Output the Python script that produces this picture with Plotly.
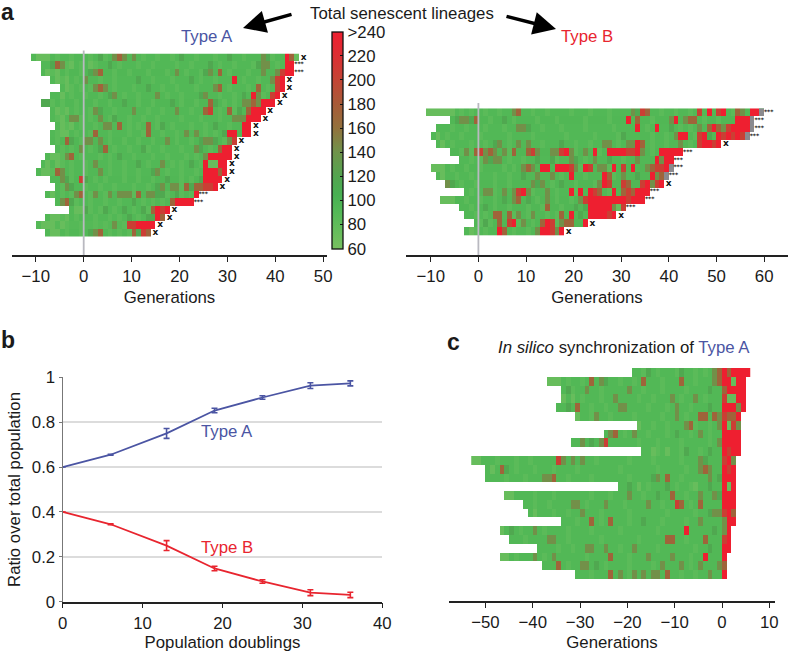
import plotly.graph_objects as go

W, H = 788, 652
R, D, B, O, M, L = 240, 205, 172, 142, 116, 74

# ---------- panel a, Type A ----------
A_START = [-11,-9,-9,-7,-5,-7,-9,-7,-7,-6,-7,-7,-6,-8,-9,-10,-7,-6,-8,-6,-3,-8,-10,-8]
A_END   = [45,44,44,42,42,41,40,38,37,35,35,32,31,31,30,30,29,28,24,23,18,17,15,14]
A_MARK  = ["x","***","***","x","x","x","x","x","x","x","x","x","x","x","x","x","x","x","***","***","x","x","x","x"]
A_BASE  = [93,92,94,92,93,92,94,93,92,93,92,94,93,92,93,92,94,93,92,93,92,92,90,92]
A_CELLS = [
 {-10:L,-9:L,-8:L,3:M,7:B,8:O,6:O,10:O,37:O,38:M,42:R,43:B,44:L,20:M,30:M},
 {-6:B,-5:O,-7:M,-3:L,1:L,5:M,37:O,38:O,36:M,42:R,43:R,26:M},
 {-8:L,-6:L,2:O,3:B,1:M,19:O,26:O,25:M,28:B,37:O,40:O,41:D,42:R,43:R},
 {-6:L,-4:L,0:O,11:M,31:R,39:O,40:D,41:R,22:M},
 {-4:L,2:O,3:B,4:O,27:O,28:B,36:B,40:D,41:R,13:M},
 {-5:L,5:M,6:O,15:O,25:O,24:M,35:R,36:O,39:D,40:R,33:M},
 {-9:M,-8:M,8:M,26:B,27:M,33:O,34:O,35:B,36:O,37:R,38:R,39:R,18:M},
 {-6:L,-4:L,3:M,2:O,10:O,19:O,26:D,25:B,30:B,32:M,35:R,36:R,37:R,34:B},
 {-5:L,-3:O,-2:O,3:O,6:M,32:O,33:O,31:O,34:R,35:R,36:R},
 {-5:L,-3:L,4:O,5:O,7:B,13:B,16:M,33:R,34:R,27:M},
 {-5:L,-4:L,2:B,13:B,21:O,23:O,30:R,31:R,33:R,34:R,29:M},
 {-4:B,-3:M,1:O,0:O,3:O,17:O,24:M,26:O,25:O,30:O,31:D,27:M},
 {-1:O,3:M,4:B,23:O,24:M,29:R,30:R,28:B,12:M},
 {-7:L,-6:L,-3:B,-4:O,7:M,26:R,27:R,28:R,29:R,30:R,25:O},
 {-8:L,-6:L,2:O,11:M,16:O,25:R,26:L,27:L,28:R,29:R,22:M},
 {-9:L,-8:L,-6:B,-5:O,3:O,14:M,15:O,25:R,26:R,27:R,28:B,29:R},
 {-1:D,-5:O,-4:M,0:M,17:M,25:R,26:R,27:R,28:R,24:M},
 {-3:M,-4:O,15:M,16:O,18:O,19:O,21:B,23:B,24:B,25:D,26:D,27:R,22:M},
 {-7:L,-2:O,-1:B,2:O,5:O,7:O,8:O,9:O,11:B,13:O,14:O,15:M,23:R,19:M,16:M},
 {-5:O,-4:B,-3:M,18:B,19:R,20:R,21:R,22:R,10:M},
 {-2:L,-1:L,0:M,4:M,8:M,14:B,15:R,16:D,17:R,12:M},
 {-7:L,-6:L,-4:L,9:M,13:M,15:R,16:B,14:M},
 {-9:L,-8:L,-7:L,-5:L,6:O,9:D,10:D,11:R,12:R,13:R,14:R},
 {-7:L,-6:L,2:O,3:B,1:M,10:B,12:D,13:B,11:M},
]
A_SOFT = [
 [-6,-3,1,4,12,15,18,23,27,33,39],
 [-4,-1,2,7,11,14,19,22,28,31,35,40],
 [-7,-4,-1,6,9,13,17,21,24,30,34],
 [-5,-2,3,6,14,18,24,27,33,36],
 [-3,-1,1,6,10,16,19,23,30,34,38],
 [-3,0,3,8,11,17,20,28,31,37],
 [-7,-5,-2,2,5,11,14,20,23,29,31],
 [-5,-2,1,6,13,16,22,28,31],
 [-6,-1,1,5,9,12,15,20,24,28],
 [-4,-1,2,9,11,15,18,22,25,30],
 [-6,-2,1,5,9,12,16,19,25,27],
 [-6,-1,5,8,11,14,19,22,29],
 [-5,-3,1,6,9,13,16,20,26],
 [-5,-1,3,5,10,14,17,21,23],
 [-5,-3,0,5,8,13,18,20,24],
 [-7,-3,0,5,8,11,17,20,23],
 [-3,2,4,8,11,14,20,22],
 [-5,0,3,6,10,13,20],
 [-5,-3,1,4,10,17,20,22],
 [-2,1,4,7,12,14,16],
 [1,3,6,10,13],
 [-5,-2,2,5,7,11],
 [-4,-1,2,4,8],
 [-4,-1,5,7,9],
]

# ---------- panel a, Type B ----------
B_START = [-11,-6,-9,-10,-9,-6,-4,-10,-9,-7,-3,-8,-4,-3,-1,-3]
B_END   = [60,58,58,57,51,43,41,41,40,39,36,35,31,29,23,18]
B_MARK  = ["***","***","***","***","x","***","***","***","***","x","***","***","***","x","x","x"]
B_BASE  = [93,94,93,92,93,94,93,94,92,94,93,94,94,92,94,93]
B_GRAY  = {0:[59], 1:[57], 2:[57], 3:[56], 7:[40], 8:[39]}
B_CELLS = [
 {-11:L,-10:L,-9:L,-8:L,-7:L,-6:L,7:O,8:B,32:O,33:M,34:D,35:B,46:D,48:R,50:D,51:R,54:B,55:O,57:R,58:R},
 {-5:M,-4:O,-3:O,-2:M,-1:B,5:M,31:R,33:B,40:O,41:R,43:O,44:B,45:B,54:R,55:R,56:R},
 {8:O,9:O,10:M,33:R,37:R,40:M,46:O,48:B,49:R,50:B,51:O,52:D,53:R,54:R,55:R,56:R},
 {-9:L,30:M,41:O,42:R,43:R,46:D,47:R,48:M,50:R,51:D,52:R,53:D,54:R,55:D},
 {-8:L,3:M,4:O,8:O,10:O,17:M,26:O,27:O,31:O,32:O,33:R,34:B,42:O,46:D,47:R,48:R,49:D,50:R},
 {-3:O,-1:B,0:D,1:O,2:B,3:O,5:O,7:B,10:B,11:D,12:O,15:O,16:O,17:D,18:R,19:O,22:O,24:R,27:R,28:R,29:R,30:R,31:D,32:D,33:R,34:O,38:R,39:R,40:R,41:R,42:R},
 {1:O,2:M,3:O,4:O,12:M,15:M,19:O,20:M,24:O,27:M,33:O,37:R,38:O,39:R,40:R},
 {-10:L,-9:L,-8:L,9:O,10:B,11:O,13:R,14:R,16:R,17:R,18:R,19:D,20:O,22:R,23:D,25:O,26:O,28:R,30:D,32:R,35:O,36:B,37:D,38:D,39:R},
 {-8:L,9:M,12:O,15:O,19:R,26:R,27:B,30:O,33:M,36:R,37:O,38:B},
 {-7:O,-6:M,11:O,12:M,13:O,17:M,25:O,26:R,27:D,30:D,31:B,34:D,35:R,36:O,37:D,38:R},
 {1:O,2:O,5:O,7:O,8:D,9:R,10:O,14:O,19:R,21:R,23:R,24:D,25:B,28:R,30:B,31:D,32:B,33:R,34:R,35:R},
 {-8:L,-7:L,-6:L,5:M,7:O,8:B,10:M,14:O,21:O,22:D,23:R,24:R,25:R,26:R,27:R,28:R,29:R,30:R,31:D,32:R,33:R,34:R},
 {1:M,14:B,20:M,22:M,23:R,24:R,25:R,26:R,27:R,28:O,29:L,30:D},
 {3:B,4:B,6:B,8:O,11:O,17:B,19:R,21:M,23:R,24:R,25:R,26:R,27:D,28:R},
 {1:M,4:B,6:D,7:R,9:O,13:B,14:R,15:D,17:O,18:B,19:B,22:R},
 {-2:L,4:R,5:B,12:O,13:R,14:R,15:D,16:O,17:R},
]
B_SOFT = [
 [-4,-2,1,4,11,14,19,23,27,38,41,44,53],
 [-3,2,7,12,16,22,27,36,47,50],
 [-6,-3,1,5,13,17,22,28,35,42,44],
 [-7,-4,0,6,11,18,24,29,36,39,45],
 [-6,-2,1,6,13,20,23,29,36,39,44],
 [-4,-2,6,20,25,36],
 [-2,0,6,9,16,22,30],
 [-6,-3,0,5,7,21,27],
 [-5,-2,3,6,17,22,28],
 [-4,-1,3,6,15,20,24],
 [-2,3,11,16,20,27],
 [-3,0,3,12,16,19],
 [-2,3,6,10,13,17],
 [-1,1,7,10,14,16],
 [0,2,8,11,16],
 [-1,1,7,10],
]

# ---------- panel c, synchronization ----------
C_START = [-19,-37,-34,-34,-35,-31,-18,-25,-32,-17,-53,-50,-50,-22,-46,-42,-41,-34,-47,-45,-39,-47,-38,-31]
C_END   = [6,5,5,5,5,4,4,4,4,4,3,3,3,3,3,3,3,3,2,2,2,1,1,1]
C_BASE  = [93,92,93,92,92,93,92,93,92,93,92,92,93,92,93,92,93,92,92,93,92,92,93,93]
C_CELLS = [
 {-2:O,-1:B,-16:M,-9:M,0:R,1:B,2:R,3:R,4:R,5:R},
 {-37:L,-36:L,-35:L,-28:B,-26:O,-25:M,-17:B,-9:B,-2:O,-1:B,0:R,1:R,2:L,3:R,4:R},
 {-33:M,-29:O,-20:O,-3:M,0:B,1:R,2:R,3:R,4:R},
 {-34:L,-32:L,-23:O,-11:O,-6:O,0:D,1:L,2:L,3:R,4:R},
 {-33:M,-31:B,-22:O,-21:O,-10:O,-3:M,0:R,1:R,2:R,3:O,4:R},
 {-31:L,-27:O,-10:O,-5:B,-4:B,-2:B,-1:O,0:D,1:B,2:B,3:R},
 {-8:O,-7:B,-18:L,-1:O,0:R,1:L,2:D,3:O},
 {-24:O,-23:B,-19:O,-10:M,-5:O,0:R,1:R,2:R,3:R},
 {-30:O,-28:M,-26:O,-25:D,-1:O,0:R,1:R,2:R,3:R},
 {-15:L,-12:L,-8:M,-3:M,0:R,1:D,2:R,3:R},
 {-53:L,-52:L,-35:D,-34:O,-32:O,-30:O,-5:O,-4:M,0:D,1:R,2:O},
 {-49:L,-47:B,-46:M,-5:O,-4:B,-3:O,0:R,1:D,2:R},
 {-36:B,-37:O,-38:O,-15:M,-14:O,-12:B,-3:O,-1:M,0:R,1:R,2:R},
 {-20:M,-18:L,-12:M,-6:L,-3:M,0:R,1:L,2:R},
 {-46:L,-45:L,-20:O,-14:M,-11:B,-5:O,-2:O,-1:M,0:R,1:R,2:R},
 {-32:O,-31:O,-25:O,-16:O,-10:D,-9:B,-5:B,0:R,1:R,2:R},
 {-40:L,-30:O,-2:O,-1:O,-3:M,0:D,1:R,2:B},
 {-28:B,-24:B,-17:M,-5:O,0:O,1:R,2:R},
 {-47:L,-45:M,-40:O,-8:R,-2:M,0:O,1:R},
 {-37:O,-36:O,-12:B,-11:B,-4:B,0:D,1:R},
 {-29:O,-28:O,-25:O,-19:O,-3:M,0:R,1:R},
 {-47:L,-46:L,-40:O,-36:O,-24:B,-16:O,-11:O,-4:R,0:R},
 {-35:B,-30:O,-29:O,-27:M,-13:O,-9:O,-5:O,-1:O,0:B},
 {-24:B,-22:O,-19:O,-17:O,-15:O,-14:O,-12:B,-3:O,0:R},
]
C_SOFT = [
 [-17,-14,-10,-6,-4],
 [-33,-30,-22,-19,-13,-6],
 [-32,-26,-17,-13,-8],
 [-30,-26,-18,-15,-9,-4],
 [-28,-25,-16,-12,-7],
 [-28,-24,-19,-13,-8],
 [-15,-12,-6,-3],
 [-21,-16,-12,-7,-3],
 [-18,-14,-9,-3],
 [-14,-9,-5],
 [-48,-44,-41,-27,-20,-15,-9],
 [-44,-40,-36,-31,-22,-14,-8],
 [-46,-42,-33,-28,-20,-9],
 [-16,-10,-7],
 [-40,-36,-28,-24,-17,-8],
 [-40,-37,-29,-21,-13,-7],
 [-36,-33,-26,-20,-12,-6],
 [-31,-26,-20,-13,-8],
 [-43,-38,-33,-28,-22,-14],
 [-42,-33,-26,-18,-8],
 [-35,-32,-22,-14,-6],
 [-44,-38,-29,-20,-7],
 [-33,-25,-20,-15,-7],
 [-28,-20,-9,-6],
]

# ---------- panel b ----------
PD = [0, 6, 13, 19, 25, 31, 36]
TYPE_A = [0.60, 0.655, 0.75, 0.852, 0.91, 0.963, 0.973]
TYPE_A_ERR = [0, 0.002, 0.022, 0.010, 0.008, 0.013, 0.011]
TYPE_B = [0.40, 0.345, 0.25, 0.148, 0.09, 0.04, 0.03]
TYPE_B_ERR = [0, 0.002, 0.022, 0.010, 0.008, 0.013, 0.012]

COLORBAR_TICKS = [60, 80, 100, 120, 140, 160, 180, 200, 220, 240]
COLORBAR_TEXT = ["60", "80", "100", "120", "140", "160", "180", "200", "220", ">240"]

SCALE = [[0.0, "#78c060"], [0.11, "#60bc5a"], [0.18, "#52b856"], [0.25, "#48b052"], [0.33, "#52a550"],
         [0.45, "#70924a"], [0.56, "#93703c"], [0.67, "#a85a38"], [0.78, "#c44434"],
         [0.89, "#dc2e33"], [1.0, "#ee1f30"]]

FONT = "Liberation Sans, Arial, sans-serif"
INK = "#1a1a1a"
BLUE = "#4b55a3"
RED = "#e8252f"
FS = 16.8
SOFT_VALUE = 84


def grid(start, end, base, cells, soft):
    x0, x1 = min(start), max(end)
    gens = list(range(x0, x1))
    z = []
    for s, e, b, c, f in zip(start, end, base, cells, soft):
        row = []
        for g in gens:
            if s <= g < e:
                row.append(c.get(g, SOFT_VALUE if g in f else b))
            else:
                row.append(None)
        z.append(row)
    return [g + 0.5 for g in gens], z


def domx(a, b):
    return [a / W, b / W]


def domy(top, bottom):
    return [1 - bottom / H, 1 - top / H]


fig = go.Figure()

# panel a, left
xa, za = grid(A_START, A_END, A_BASE, A_CELLS, A_SOFT)
fig.add_trace(go.Heatmap(x=xa, y=list(range(24)), z=za, zmin=60, zmax=240, colorscale=SCALE,
    xaxis="x", yaxis="y", hoverongaps=False, showscale=True,
    colorbar=dict(xref="paper", yref="paper", x=332 / W, xanchor="left", y=1 - 31.7 / H, yanchor="top",
                  lenmode="pixels", len=217.3, thicknessmode="pixels", thickness=10.5,
                  xpad=0, ypad=0, outlinecolor="#111", outlinewidth=1.3, ticks="inside", ticklen=3,
                  tickcolor="#111", tickvals=COLORBAR_TICKS, ticktext=COLORBAR_TEXT,
                  tickfont=dict(family=FONT, size=FS, color=INK))))
fig.add_trace(go.Scatter(x=[e + 0.95 for e in A_END], y=list(range(24)), text=A_MARK, mode="text",
    textfont=dict(family="DejaVu Sans", size=[9 if m == "x" else 6 for m in A_MARK], color="#111", weight="bold"),
    xaxis="x", yaxis="y", showlegend=False, cliponaxis=False))

# panel a, right
xb, zb = grid(B_START, B_END, B_BASE, B_CELLS, B_SOFT)
fig.add_trace(go.Heatmap(x=xb, y=list(range(16)), z=zb, zmin=60, zmax=240, colorscale=SCALE,
    xaxis="x2", yaxis="y2", hoverongaps=False, showscale=False))
gray_z = [[(150 if (g - 0.5) in B_GRAY.get(r, []) else None) for g in xb] for r in range(16)]
fig.add_trace(go.Heatmap(x=xb, y=list(range(16)), z=gray_z, zmin=0, zmax=300,
    colorscale=[[0, "#8a8a8f"], [1, "#8a8a8f"]], xaxis="x2", yaxis="y2", hoverongaps=False, showscale=False))
fig.add_trace(go.Scatter(x=[e + 0.95 for e in B_END], y=list(range(16)), text=B_MARK, mode="text",
    textfont=dict(family="DejaVu Sans", size=[9 if m == "x" else 6 for m in B_MARK], color="#111", weight="bold"),
    xaxis="x2", yaxis="y2", showlegend=False, cliponaxis=False))

# panel b
for ys, errs, col in [(TYPE_A, TYPE_A_ERR, BLUE), (TYPE_B, TYPE_B_ERR, RED)]:
    fig.add_trace(go.Scatter(x=PD, y=ys, mode="lines", line=dict(color=col, width=1.8),
        error_y=dict(type="data", array=errs, color=col, thickness=1.6, width=3),
        xaxis="x3", yaxis="y3", showlegend=False, cliponaxis=False))

# panel c
xc, zc = grid(C_START, C_END, C_BASE, C_CELLS, C_SOFT)
fig.add_trace(go.Heatmap(x=xc, y=list(range(24)), z=zc, zmin=60, zmax=240, colorscale=SCALE,
    xaxis="x4", yaxis="y4", hoverongaps=False, showscale=False))

axis_line = dict(showgrid=False, zeroline=False, ticks="outside", ticklen=5, tickwidth=1.3, tickcolor="#222",
                 showline=True, linecolor="#222", linewidth=1.5,
                 tickfont=dict(family=FONT, size=FS, color=INK))
gen_title = dict(text="Generations", font=dict(family=FONT, size=FS, color=INK), standoff=6)

fig.update_layout(
    width=W, height=H, margin=dict(l=0, r=0, t=0, b=0, autoexpand=False), autosize=False,
    paper_bgcolor="white", plot_bgcolor="rgba(0,0,0,0)", showlegend=False,
    font=dict(family=FONT, size=FS, color=INK),
    xaxis=dict(domain=domx(12, 327), range=[-14.97, 50.8], tickvals=[-10, 0, 10, 20, 30, 40, 50],
               anchor="y", title=gen_title, **axis_line),
    yaxis=dict(domain=domy(53.5, 255), range=[25.91, -0.5], visible=False, anchor="x"),
    xaxis2=dict(domain=domx(406, 788), range=[-15.2, 65], tickvals=[-10, 0, 10, 20, 30, 40, 50, 60],
                anchor="y2", title=gen_title, **axis_line),
    yaxis2=dict(domain=domy(108.3, 255), range=[17.93, -0.5], visible=False, anchor="x2"),
    xaxis3=dict(domain=domx(62.7, 382.3), range=[0, 40], tickvals=[0, 10, 20, 30, 40], anchor="y3",
                title=dict(text="Population doublings", font=dict(family=FONT, size=FS, color=INK), standoff=6),
                **axis_line),
    yaxis3=dict(domain=domy(377.3, 601.7), range=[0, 1], tickvals=[0, 0.2, 0.4, 0.6, 0.8, 1],
                ticktext=["0", "0.2", "0.4", "0.6", "0.8", "1"], anchor="x3",
                showgrid=True, gridcolor="#dcdcdc", gridwidth=1.5, zeroline=False, showline=True,
                linecolor="#777", linewidth=1.3, ticks="outside", ticklen=3, tickcolor="#777",
                tickfont=dict(family=FONT, size=FS, color=INK),
                title=dict(text="Ratio over total population", font=dict(family=FONT, size=FS, color=INK), standoff=6)),
    xaxis4=dict(domain=domx(449, 775), range=[-57.7, 11.2], tickvals=[-50, -40, -30, -20, -10, 0, 10],
                anchor="y4", title=gen_title, **axis_line),
    yaxis4=dict(domain=domy(368, 601), range=[26.0, -0.5], visible=False, anchor="x4"),
)

# vertical zero lines of panel a
fig.add_shape(type="line", xref="x", yref="paper", x0=0, x1=0, y0=1 - 255 / H, y1=1 - 50.5 / H,
              line=dict(color="#b9b9c0", width=1.8))
fig.add_shape(type="line", xref="x2", yref="paper", x0=0, x1=0, y0=1 - 255 / H, y1=1 - 103 / H,
              line=dict(color="#b9b9c0", width=1.8))


def label(px, py, text, size=FS, color=INK, xanchor="center", **kw):
    fig.add_annotation(xref="paper", yref="paper", x=px / W, y=1 - py / H, text=text, showarrow=False,
                       xanchor=xanchor, yanchor="middle",
                       font=dict(family=FONT, size=size, color=color), **kw)


label(8, 12, "<b>a</b>", 23)
label(8, 340, "<b>b</b>", 23)
label(453, 342, "<b>c</b>", 23)
label(402, 14, "Total senescent lineages")
label(207, 36, "Type A", color=BLUE)
label(587, 36, "Type B", color=RED)
label(227, 432, "Type A", color=BLUE)
label(227, 547, "Type B", color=RED)
label(624, 347, "<i>In silico</i> synchronization of <span style='color:%s'>Type A</span>" % BLUE)

for tail, tip in [((293, 14), (243, 28)), ((505, 16), (556, 29))]:
    fig.add_annotation(xref="paper", yref="paper", x=tip[0] / W, y=1 - tip[1] / H,
                       axref="pixel", ayref="pixel", ax=tail[0] - tip[0], ay=tail[1] - tip[1],
                       text="", showarrow=True, arrowhead=2, arrowsize=1.3, arrowwidth=3.5, arrowcolor="#000")

fig.write_html("out.html", config={"displayModeBar": False},
               post_script="document.body.style.margin='0';document.body.style.overflow='hidden';")
